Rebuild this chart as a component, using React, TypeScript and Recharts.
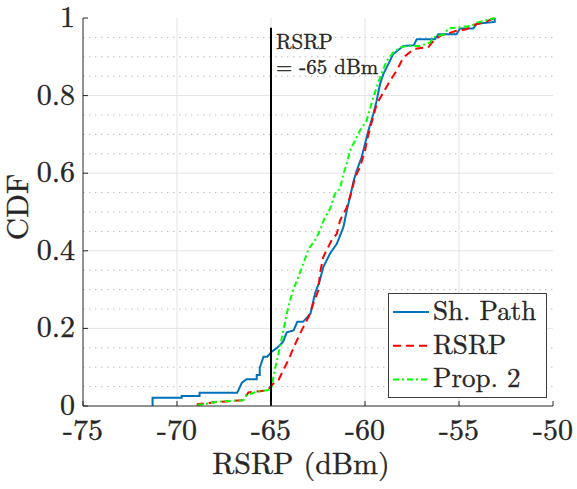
import React from 'react'
import {
  LineChart,
  Line,
  XAxis,
  YAxis,
  ReferenceLine,
  Legend,
} from 'recharts'

// ── Data ──────────────────────────────────────────────────────────────────────

const shPath: [number, number][] = [
  [-71.3, 0], [-71.3, 0.021], [-69.75, 0.021], [-69.75, 0.026], [-68.8, 0.026],
  [-68.8, 0.034], [-66.8, 0.034], [-66.55, 0.06], [-66.3, 0.069], [-65.76, 0.069],
  [-65.76, 0.08], [-65.6, 0.08], [-65.6, 0.098], [-65.4, 0.127], [-65.2, 0.127],
  [-64.96, 0.14], [-64.7, 0.149], [-64.36, 0.165], [-64.16, 0.19], [-63.8, 0.195],
  [-63.6, 0.217], [-63.3, 0.217], [-62.9, 0.238], [-62.66, 0.29], [-62.4, 0.324],
  [-62.22, 0.358], [-61.86, 0.393], [-61.5, 0.418], [-61.15, 0.461], [-60.97, 0.504],
  [-60.8, 0.538], [-60.6, 0.581], [-60.44, 0.607], [-60.18, 0.641], [-60.0, 0.675],
  [-59.82, 0.71], [-59.56, 0.752], [-59.38, 0.787], [-59.2, 0.83], [-59.03, 0.855],
  [-58.76, 0.881], [-58.5, 0.907], [-57.96, 0.928], [-57.4, 0.93], [-57.25, 0.945],
  [-56.28, 0.945], [-56.1, 0.958], [-55.13, 0.958], [-54.95, 0.973], [-54.24, 0.973],
  [-54.06, 0.985], [-53.1, 0.99], [-53.1, 1.0],
]

const rsrp: [number, number][] = [
  [-68.9, 0], [-68.9, 0.005], [-67.9, 0.01], [-66.5, 0.015], [-66.2, 0.035],
  [-65.2, 0.04], [-64.87, 0.058], [-64.6, 0.067], [-64.34, 0.093], [-64.08, 0.118],
  [-63.7, 0.161], [-63.37, 0.195], [-63.0, 0.23], [-62.75, 0.264], [-62.48, 0.298],
  [-62.4, 0.341], [-62.22, 0.384], [-61.78, 0.427], [-61.5, 0.444], [-61.33, 0.478],
  [-60.97, 0.512], [-60.7, 0.555], [-60.53, 0.589], [-60.27, 0.615], [-60.0, 0.658],
  [-59.9, 0.684], [-59.65, 0.73], [-59.38, 0.778], [-59.03, 0.808], [-58.67, 0.838],
  [-58.32, 0.864], [-57.96, 0.898], [-57.4, 0.92], [-56.63, 0.925], [-56.36, 0.941],
  [-56.0, 0.954], [-55.13, 0.967], [-54.6, 0.971], [-54.24, 0.982], [-53.6, 0.99],
  [-53.1, 1.0],
]

const prop2: [number, number][] = [
  [-68.87, 0], [-68.87, 0.003], [-68.24, 0.007], [-67.9, 0.011], [-66.47, 0.015],
  [-66.3, 0.028], [-65.76, 0.037], [-65.14, 0.041], [-64.96, 0.05], [-64.8, 0.093],
  [-64.6, 0.135], [-64.34, 0.195], [-64.16, 0.238], [-63.99, 0.272], [-63.81, 0.3],
  [-63.55, 0.332], [-63.28, 0.367], [-63.0, 0.405], [-62.66, 0.427], [-62.4, 0.452],
  [-62.13, 0.487], [-61.86, 0.508], [-61.6, 0.547], [-61.33, 0.56], [-61.15, 0.598],
  [-60.97, 0.624], [-60.8, 0.658], [-60.53, 0.684], [-60.27, 0.71], [-59.92, 0.735],
  [-59.56, 0.795], [-59.2, 0.847], [-58.85, 0.889], [-58.5, 0.911], [-58.14, 0.924],
  [-57.8, 0.928], [-57.07, 0.928], [-56.54, 0.937], [-56.37, 0.95], [-55.8, 0.958],
  [-55.57, 0.973], [-54.41, 0.979], [-54.06, 0.988], [-53.1, 1.0],
]

const xTicks = [-75, -70, -65, -60, -55, -50]
const xGrid = [-70, -65, -60, -55]
const yTicks = [0, 0.2, 0.4, 0.6, 0.8, 1]
const yGrid = [0.2, 0.4, 0.6, 0.8]
const yMinor = [0.05, 0.1, 0.15, 0.25, 0.3, 0.35, 0.45, 0.5, 0.55, 0.65, 0.7, 0.75, 0.85, 0.9, 0.95]

const threshold = -65
const thresholdTop = 0.975

// ── Style ─────────────────────────────────────────────────────────────────────

const FONT = "'Latin Modern Roman'"
const INK = '#262626'
const BLUE = '#0072BD'
const RED = '#FF0000'
const GREEN = '#00FF00'

// LaTeX-ish text, thickened a touch to match the MATLAB export
const serif = (size: number): React.CSSProperties => ({
  fontFamily: FONT,
  fontSize: size,
  stroke: INK,
  strokeWidth: 0.35,
})

const toPts = (arr: [number, number][]) => arr.map(([x, y]) => ({ x, y }))

// ── Ticks ─────────────────────────────────────────────────────────────────────

function XTick({ x, y, payload }: any) {
  return (
    <g>
      <line x1={x} x2={x} y1={y} y2={y - 5} stroke={INK} />
      <text x={x} y={y + 34} textAnchor="middle" style={serif(30)} fill={INK}>
        {payload.value}
      </text>
    </g>
  )
}

function TopTick({ x, y }: any) {
  return <line x1={x} x2={x} y1={y} y2={y + 5} stroke={INK} />
}

function YTick({ x, y, payload }: any) {
  return (
    <g>
      <line x1={x} x2={x + 5} y1={y} y2={y} stroke={INK} />
      <text x={x - 8} y={y + 9} textAnchor="end" style={serif(30)} fill={INK}>
        {payload.value}
      </text>
    </g>
  )
}

function RightTick({ x, y }: any) {
  return <line x1={x} x2={x - 5} y1={y} y2={y} stroke={INK} />
}

// ── Annotation & legend ───────────────────────────────────────────────────────

function ThresholdLabel({ viewBox }: any) {
  const x = viewBox.x + 5
  const y = viewBox.y
  return (
    <g style={serif(21)} fill={INK}>
      <text x={x} y={y + 21}>RSRP</text>
      <text x={x} y={y + 46}>= -65 dBm</text>
    </g>
  )
}

const legendItems = [
  { name: 'Sh. Path', color: BLUE, dash: undefined },
  { name: 'RSRP', color: RED, dash: '8 5' },
  { name: 'Prop. 2', color: GREEN, dash: '6 3 2 3' },
]

function LegendBox() {
  return (
    <svg width={159} height={105} style={{ display: 'block', overflow: 'visible' }}>
      <rect x={0.5} y={0.5} width={158} height={104} fill="#fff" stroke="#3c3c3c" />
      {legendItems.map((it, i) => (
        <g key={it.name}>
          <line
            x1={5}
            x2={41}
            y1={19 + i * 33.7}
            y2={19 + i * 33.7}
            stroke={it.color}
            strokeWidth={2}
            strokeDasharray={it.dash}
          />
          <text x={45} y={27 + i * 33.7} style={serif(27)} fill={INK}>
            {it.name}
          </text>
        </g>
      ))}
    </svg>
  )
}

// ── Chart ─────────────────────────────────────────────────────────────────────

export default function App() {
  return (
    <div style={{ position: 'absolute', left: 0, top: 0, background: '#fff' }}>
      <LineChart width={577} height={489} margin={{ top: 18, right: 24, bottom: 0, left: 0 }}>
        {yMinor.map((v) => (
          <ReferenceLine key={'m' + v} y={v} stroke="#bdbdbd" strokeDasharray="1.5 4.5" />
        ))}
        {yGrid.map((v) => (
          <ReferenceLine key={'g' + v} y={v} stroke="#e3e3e3" />
        ))}
        {xGrid.map((v) => (
          <ReferenceLine key={'v' + v} x={v} stroke="#e3e3e3" />
        ))}

        <XAxis
          dataKey="x"
          type="number"
          domain={[-75, -50]}
          ticks={xTicks}
          allowDuplicatedCategory={false}
          height={83}
          tickSize={0}
          tickMargin={0}
          tickLine={false}
          axisLine={{ stroke: INK }}
          tick={<XTick />}
          interval={0}
          label={{
            content: () => (
              <text x={301} y={474} textAnchor="middle" style={serif(30)} fill={INK}>
                RSRP (dBm)
              </text>
            ),
          }}
        />
        <XAxis
          xAxisId="top"
          orientation="top"
          type="number"
          domain={[-75, -50]}
          ticks={xTicks}
          height={0}
          tickSize={0}
          tickLine={false}
          axisLine={{ stroke: INK }}
          tick={<TopTick />}
          interval={0}
        />
        <YAxis
          type="number"
          domain={[0, 1]}
          ticks={yTicks}
          width={83}
          tickSize={0}
          tickMargin={0}
          tickLine={false}
          axisLine={{ stroke: INK }}
          tick={<YTick />}
          interval={0}
          label={{
            content: () => (
              <text
                x={28}
                y={207}
                transform="rotate(-90 28 207)"
                textAnchor="middle"
                style={serif(31)}
                fill={INK}
              >
                CDF
              </text>
            ),
          }}
        />
        <YAxis
          yAxisId="right"
          orientation="right"
          type="number"
          domain={[0, 1]}
          ticks={yTicks}
          width={0}
          tickSize={0}
          tickLine={false}
          axisLine={{ stroke: INK }}
          tick={<RightTick />}
          interval={0}
        />

        <Line
          data={toPts(shPath)}
          dataKey="y"
          stroke={BLUE}
          strokeWidth={2}
          dot={false}
          isAnimationActive={false}
        />
        <Line
          data={toPts(rsrp)}
          dataKey="y"
          stroke={RED}
          strokeWidth={2}
          strokeDasharray="8 5"
          dot={false}
          isAnimationActive={false}
        />
        <Line
          data={toPts(prop2)}
          dataKey="y"
          stroke={GREEN}
          strokeWidth={2}
          strokeDasharray="6 3 2 3"
          dot={false}
          isAnimationActive={false}
        />

        <ReferenceLine
          segment={[
            { x: threshold, y: 0 },
            { x: threshold, y: thresholdTop },
          ]}
          stroke="#000"
          strokeWidth={2}
          label={<ThresholdLabel />}
        />

        <Legend
          layout="vertical"
          align="center"
          verticalAlign="middle"
          wrapperStyle={{ position: 'absolute', left: 388, top: 293, width: 159, height: 105 }}
          content={<LegendBox />}
        />
      </LineChart>
    </div>
  )
}
